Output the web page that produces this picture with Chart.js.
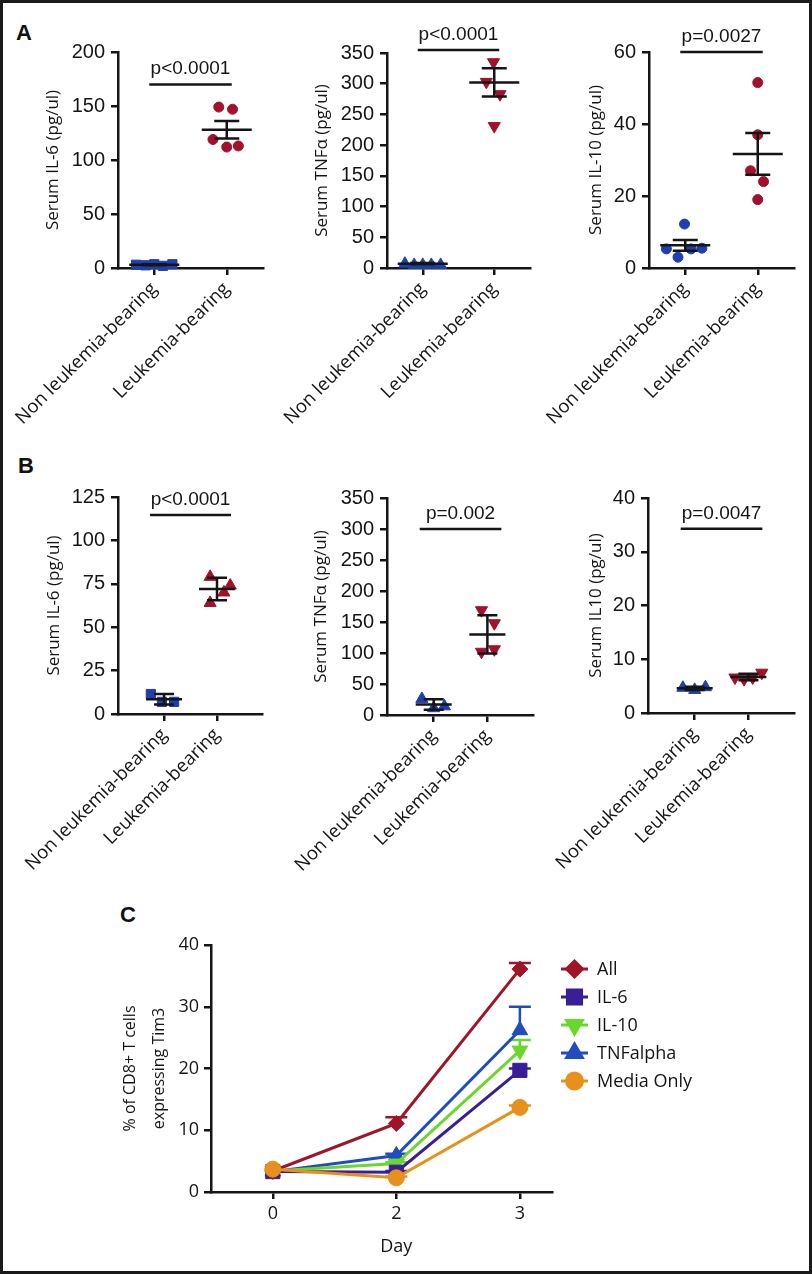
<!DOCTYPE html>
<html>
<head>
<meta charset="utf-8">
<script src="https://cdn.jsdelivr.net/npm/chart.js@4.4.1/dist/chart.umd.min.js"></script>
<style>
html, body { margin: 0; padding: 0; background: #fff; }
body { width: 812px; height: 1274px; position: relative; overflow: hidden; }
.frame { position: absolute; left: 0; top: 0; width: 812px; height: 1274px; box-sizing: border-box; border: 3px solid #1a1a1a; pointer-events: none; z-index: 10; }
.panel { position: absolute; }
.letter { position: absolute; font: bold 22px "Liberation Sans", Arial, sans-serif; line-height: 1; color: #111; }
</style>
</head>
<body>
<div class="frame"></div>
<div class="letter" style="left:16px;top:22px">A</div>
<div class="letter" style="left:18px;top:455px">B</div>
<div class="letter" style="left:120px;top:904px">C</div>

<script>
// ---------- data ----------
const GROUPS = ['Non leukemia-bearing', 'Leukemia-bearing'];

// A - serum cytokines (n=5)
const A_IL6_NON = [3, 2.5, 3.5, 2, 3.5];
const A_IL6_LEU = [149, 147, 119, 112, 113];
const A_IL6_MEAN = [3, 128];
const A_IL6_SEM = [0.5, 8];

const A_TNF_NON = [7, 5, 5, 5, 5];
const A_TNF_LEU = [335, 303, 283, 231];
const A_TNF_MEAN = [7, 302];
const A_TNF_SEM = [1, 23];

const A_IL10_NON = [12.2, 5.3, 5.3, 5.5, 3.0];
const A_IL10_LEU = [51.5, 37, 27, 24, 19];
const A_IL10_MEAN = [6.3, 31.7];
const A_IL10_SEM = [1.5, 5.8];

// B
const B_IL6_NON = [11.5, 7, 7];
const B_IL6_LEU = [79, 74, 70, 64];
const B_IL6_MEAN = [8.5, 72];
const B_IL6_SEM = [3, 6.5];

const B_TNF_NON = [26, 11, 14];
const B_TNF_LEU = [169, 148, 102, 106];
const B_TNF_MEAN = [17, 130];
const B_TNF_SEM = [8.5, 31];

const B_IL10_NON = [4.7, 4.3, 4.8];
const B_IL10_LEU = [6.6, 6.3, 6.6, 7.5];
const B_IL10_MEAN = [4.6, 6.7];
const B_IL10_SEM = [0.3, 0.6];

const P_VALUES = ['p<0.0001', 'p<0.0001', 'p=0.0027', 'p<0.0001', 'p=0.002', 'p=0.0047'];

// C - Tim3 on CD8+ T cells
const DAYS = ['0', '2', '3'];
const C_NAMES = ['All', 'IL-6', 'IL-10', 'TNFalpha', 'Media Only'];
const C_ALL = [3.4, 11.1, 36.1];
const C_IL6 = [3.3, 3.2, 19.7];
const C_IL10 = [3.4, 4.6, 22.9];
const C_TNF = [3.3, 5.9, 26.2];
const C_MEDIA = [3.7, 2.3, 13.7];
const C_ALL_ERR = [0, 1.0, 1.0];
const C_IL6_ERR = [0, 0.2, 0.3];
const C_IL10_ERR = [0, 0.2, 1.7];
const C_TNF_ERR = [0, 0.3, 3.8];
const C_MEDIA_ERR = [0, 0.2, 0.3];

// horizontal spread of the dots inside each column (layout only)
const JIT = {
    aIl6:  [[-0.25, -0.12, 0, 0.12, 0.25], [-0.11, 0.08, -0.19, 0, 0.16]],
    aTnf:  [[-0.25, -0.12, 0, 0.12, 0.25], [-0.01, -0.11, 0.08, 0]],
    aIl10: [[-0.01, -0.26, 0.08, 0.23, -0.1], [0, 0, -0.1, 0.08, 0]],
    bIl6:  [[-0.25, -0.04, 0.19], [-0.13, 0.25, 0.13, -0.13]],
    bTnf:  [[-0.22, 0, 0.2], [-0.11, 0.13, -0.11, 0.13]],
    bIl10: [[-0.22, 0, 0.2], [-0.25, -0.08, 0.08, 0.25]]
};

// ---------- styles ----------
const NUM_FONT = '"Liberation Sans", Arial, sans-serif';
const TXT_FONT = '"Open Sans", "Liberation Sans", sans-serif';
const INK = '#151515';
const BLUE = '#1f3fae';
const RED = '#a3102c';
const C_COLORS = ['#a01428', '#3a1e96', '#6ad82a', '#1f4cc0', '#e8901c'];
const C_MARKS = [
    {style: 'rectRot', r: 8, rot: 0},
    {style: 'rect', r: 10, rot: 0},
    {style: 'triangle', r: 9, rot: 180},
    {style: 'triangle', r: 9, rot: 0},
    {style: 'circle', r: 8, rot: 0}
];

function makeCanvas(left, top, w, h) {
    var div = document.createElement('div');
    div.className = 'panel';
    div.style.left = left + 'px';
    div.style.top = top + 'px';
    div.style.width = w + 'px';
    div.style.height = h + 'px';
    var c = document.createElement('canvas');
    c.width = w;
    c.height = h;
    c.style.width = w + 'px';
    c.style.height = h + 'px';
    div.appendChild(c);
    document.body.appendChild(div);
    return c;
}

function axisGrid() {
    return {display: true, drawOnChartArea: false, drawTicks: true, tickLength: 7, color: INK, lineWidth: 2.5};
}

// mean + error bars and the p-value bracket
var meanSem = {
    id: 'meanSem',
    afterDatasetsDraw: function(chart, args, o) {
        var ctx = chart.ctx, x = chart.scales.x, y = chart.scales.y;
        ctx.save();
        ctx.strokeStyle = INK;
        ctx.lineWidth = 2.5;
        for (var i = 0; i < o.mean.length; i++) {
            var px = x.getPixelForValue(i);
            var ym = y.getPixelForValue(o.mean[i]);
            var yt = y.getPixelForValue(o.mean[i] + o.err[i]);
            var yb = y.getPixelForValue(o.mean[i] - o.err[i]);
            ctx.beginPath();
            ctx.moveTo(px - o.half, ym); ctx.lineTo(px + o.half, ym);
            ctx.moveTo(px, yt); ctx.lineTo(px, yb);
            ctx.moveTo(px - o.cap, yt); ctx.lineTo(px + o.cap, yt);
            ctx.moveTo(px - o.cap, yb); ctx.lineTo(px + o.cap, yb);
            ctx.stroke();
        }
        var x0 = x.getPixelForValue(0) - o.pad, x1 = x.getPixelForValue(1) + o.pad;
        var yl = y.getPixelForValue(o.pAt);
        ctx.beginPath();
        ctx.moveTo(x0, yl); ctx.lineTo(x1, yl);
        ctx.stroke();
        ctx.fillStyle = INK;
        ctx.font = '19px ' + NUM_FONT;
        ctx.textAlign = 'center';
        ctx.textBaseline = 'alphabetic';
        ctx.fillText(o.p, (x0 + x1) / 2, yl - 10);
        ctx.restore();
    }
};

function dotPanel(f) {
    var YW = Math.round(f.gap + 10.2), PL = 140, PT = 55, PR = 15, XH = 160;
    var w = Math.round(PL + YW + (f.right - f.ax) + PR);
    var h = Math.round(PT + (f.bottom - f.top) + XH);
    var canvas = makeCanvas(f.ax - YW - PL, f.top - PT, w, h);
    var sets = [f.non, f.leu].map(function(vals, g) {
        return {
            data: vals.map(function(v, i) { return {x: g + f.jit[g][i], y: v}; }),
            pointStyle: f.marks[g].style,
            rotation: f.marks[g].rot || 0,
            pointRadius: f.marks[g].r,
            backgroundColor: g === 0 ? BLUE : RED,
            borderColor: g === 0 ? BLUE : RED,
            borderWidth: 1,
            clip: false
        };
    });
    return new Chart(canvas, {
        type: 'scatter',
        data: {datasets: sets},
        plugins: [meanSem],
        options: {
            responsive: false,
            animation: false,
            layout: {padding: {top: PT, right: PR, bottom: 0, left: PL}},
            plugins: {
                legend: {display: false},
                tooltip: {enabled: false},
                meanSem: {mean: f.mean, err: f.err, half: f.half, cap: f.cap, p: f.p, pAt: f.pAt, pad: f.pad}
            },
            scales: {
                x: {
                    type: 'linear',
                    min: f.xmin,
                    max: f.xmax,
                    afterBuildTicks: function(s) { s.ticks = [{value: 0}, {value: 1}]; },
                    afterFit: function(s) { s.height = XH; s.paddingLeft = 0; s.paddingRight = 0; },
                    ticks: {
                        autoSkip: false, minRotation: 45, maxRotation: 45, padding: 3, color: INK,
                        font: {family: TXT_FONT, size: 18.5},
                        callback: function(v) { return GROUPS[Math.round(v)]; }
                    },
                    grid: axisGrid(),
                    border: {display: true, color: INK, width: 2.5}
                },
                y: {
                    min: 0,
                    max: f.ymax,
                    afterFit: function(s) { s.width = YW; s.paddingTop = 0; s.paddingBottom = 0; },
                    ticks: {stepSize: f.step, padding: 6, color: INK, font: {family: NUM_FONT, size: 20}},
                    title: {display: true, text: f.title, padding: 0, color: INK, font: {family: TXT_FONT, size: 17, lineHeight: 1.2}},
                    grid: axisGrid(),
                    border: {display: true, color: INK, width: 2.5}
                }
            }
        }
    });
}

var circ = {style: 'circle', r: 5}, sq = {style: 'rect', r: 6.5};
var triUp = {style: 'triangle', r: 7}, triDn = {style: 'triangle', r: 7, rot: 180};
var aLook = {xmin: -0.5, xmax: 1.5, half: 25, cap: 12.5, pad: 5};
var bLook = {xmin: -0.87, xmax: 1.85, half: 18, cap: 10, pad: 14};

function withLook(look, f) {
    for (var k in look) f[k] = look[k];
    return f;
}

dotPanel(withLook(aLook, {ax: 118, top: 52, bottom: 268, right: 263, gap: 65, ymax: 200, step: 50,
    title: 'Serum IL-6 (pg/ul)', non: A_IL6_NON, leu: A_IL6_LEU, mean: A_IL6_MEAN, err: A_IL6_SEM,
    jit: JIT.aIl6, marks: [sq, circ], p: P_VALUES[0], pAt: 170}));
dotPanel(withLook(aLook, {ax: 387, top: 53, bottom: 268, right: 530, gap: 65, ymax: 350, step: 50,
    title: 'Serum TNFα (pg/ul)', non: A_TNF_NON, leu: A_TNF_LEU, mean: A_TNF_MEAN, err: A_TNF_SEM,
    jit: JIT.aTnf, marks: [triUp, triDn], p: P_VALUES[1], pAt: 355}));
dotPanel(withLook(aLook, {ax: 649, top: 52, bottom: 268, right: 794, gap: 53, ymax: 60, step: 20,
    title: 'Serum IL-10 (pg/ul)', non: A_IL10_NON, leu: A_IL10_LEU, mean: A_IL10_MEAN, err: A_IL10_SEM,
    jit: JIT.aIl10, marks: [circ, circ], p: P_VALUES[2], pAt: 60}));

dotPanel(withLook(bLook, {ax: 118, top: 497, bottom: 714, right: 262, gap: 64, ymax: 125, step: 25,
    title: 'Serum IL-6 (pg/ul)', non: B_IL6_NON, leu: B_IL6_LEU, mean: B_IL6_MEAN, err: B_IL6_SEM,
    jit: JIT.bIl6, marks: [sq, triUp], p: P_VALUES[3], pAt: 114.6}));
dotPanel(withLook(bLook, {ax: 387, top: 498, bottom: 715, right: 533, gap: 66, ymax: 350, step: 50,
    title: 'Serum TNFα (pg/ul)', non: B_TNF_NON, leu: B_TNF_LEU, mean: B_TNF_MEAN, err: B_TNF_SEM,
    jit: JIT.bTnf, marks: [triUp, triDn], p: P_VALUES[4], pAt: 300}));
dotPanel(withLook(bLook, {ax: 648, top: 498, bottom: 713, right: 794, gap: 52, ymax: 40, step: 10,
    title: 'Serum IL10 (pg/ul)', non: B_IL10_NON, leu: B_IL10_LEU, mean: B_IL10_MEAN, err: B_IL10_SEM,
    jit: JIT.bIl10, marks: [triUp, triDn], p: P_VALUES[5], pAt: 34.3}));

// ---------- panel C ----------
var C_VALUES = [C_ALL, C_IL6, C_IL10, C_TNF, C_MEDIA];
var C_ERRS = [C_ALL_ERR, C_IL6_ERR, C_IL10_ERR, C_TNF_ERR, C_MEDIA_ERR];

function marker(ctx, m, x, y) {
    if (Chart.helpers && Chart.helpers.drawPoint) {
        Chart.helpers.drawPoint(ctx, {pointStyle: m.style, radius: m.r, rotation: m.rot, borderWidth: 1}, x, y);
    } else {
        ctx.beginPath(); ctx.arc(x, y, m.r, 0, Math.PI * 2); ctx.fill();
    }
}

var upBars = {
    id: 'upBars',
    beforeDatasetsDraw: function(chart) {
        var ctx = chart.ctx, x = chart.scales.x, y = chart.scales.y;
        ctx.save();
        ctx.lineWidth = 2.5;
        C_VALUES.forEach(function(vals, s) {
            ctx.strokeStyle = C_COLORS[s];
            vals.forEach(function(v, i) {
                if (!C_ERRS[s][i]) return;
                var px = x.getPixelForValue(i), y0 = y.getPixelForValue(v), y1 = y.getPixelForValue(v + C_ERRS[s][i]);
                ctx.beginPath();
                ctx.moveTo(px, y0); ctx.lineTo(px, y1);
                ctx.moveTo(px - 11, y1); ctx.lineTo(px + 11, y1);
                ctx.stroke();
            });
        });
        ctx.restore();
    },
    afterDraw: function(chart) {
        var ctx = chart.ctx, a = chart.chartArea, x = chart.scales.x;
        ctx.save();
        C_NAMES.forEach(function(name, s) {
            var lx = a.right + 9, ly = a.top + 24 + s * 28;
            ctx.strokeStyle = C_COLORS[s];
            ctx.fillStyle = C_COLORS[s];
            ctx.lineWidth = 3;
            ctx.beginPath(); ctx.moveTo(lx, ly); ctx.lineTo(lx + 27, ly); ctx.stroke();
            marker(ctx, C_MARKS[s], lx + 13.5, ly);
            ctx.fillStyle = INK;
            ctx.font = '18px ' + TXT_FONT;
            ctx.textAlign = 'left';
            ctx.textBaseline = 'middle';
            ctx.fillText(name, lx + 36, ly + 1);
        });
        // x axis title, centred under the middle day
        ctx.fillStyle = INK;
        ctx.font = '18px ' + TXT_FONT;
        ctx.textAlign = 'center';
        ctx.textBaseline = 'middle';
        ctx.fillText('Day', x.getPixelForValue(1), a.bottom + 55);
        ctx.restore();
    }
};

(function() {
    var ax = 211, top = 945, bottom = 1192, right = 552;
    var YW = 95, PT = 30, PR = 220, XH = 66;
    var w = YW + (right - ax) + PR, h = PT + (bottom - top) + XH;
    var canvas = makeCanvas(ax - YW, top - PT, w, h);
    var sets = C_VALUES.map(function(vals, s) {
        return {
            label: C_NAMES[s],
            data: vals.map(function(v, i) { return {x: i, y: v}; }),
            borderColor: C_COLORS[s],
            backgroundColor: C_COLORS[s],
            borderWidth: 3,
            pointStyle: C_MARKS[s].style,
            pointRadius: C_MARKS[s].r,
            rotation: C_MARKS[s].rot,
            pointBorderWidth: 1,
            tension: 0,
            fill: false,
            clip: false,
            order: s === 4 ? 0 : s + 1
        };
    });
    new Chart(canvas, {
        type: 'line',
        data: {datasets: sets},
        plugins: [upBars],
        options: {
            responsive: false,
            animation: false,
            layout: {padding: {top: PT, right: PR, bottom: 0, left: 0}},
            plugins: {legend: {display: false}, tooltip: {enabled: false}},
            scales: {
                x: {
                    type: 'linear',
                    min: -0.5,
                    max: 2.26,
                    afterBuildTicks: function(s) { s.ticks = [{value: 0}, {value: 1}, {value: 2}]; },
                    afterFit: function(s) { s.height = XH; s.paddingLeft = 0; s.paddingRight = 0; },
                    ticks: {
                        autoSkip: false, maxRotation: 0, padding: 4, color: INK,
                        font: {family: TXT_FONT, size: 18},
                        callback: function(v) { return DAYS[Math.round(v)]; }
                    },
                    grid: axisGrid(),
                    border: {display: true, color: INK, width: 2.5}
                },
                y: {
                    min: 0,
                    max: 40,
                    afterFit: function(s) { s.width = YW; s.paddingTop = 0; s.paddingBottom = 0; },
                    ticks: {stepSize: 10, padding: 5, color: INK, font: {family: TXT_FONT, size: 18}},
                    title: {display: true, text: ['% of CD8+ T cells', 'expressing Tim3'], padding: 0, color: INK,
                        font: {family: TXT_FONT, size: 16, lineHeight: 1.8}},
                    grid: axisGrid(),
                    border: {display: true, color: INK, width: 2.5}
                }
            }
        }
    });
})();
</script>
</body>
</html>
